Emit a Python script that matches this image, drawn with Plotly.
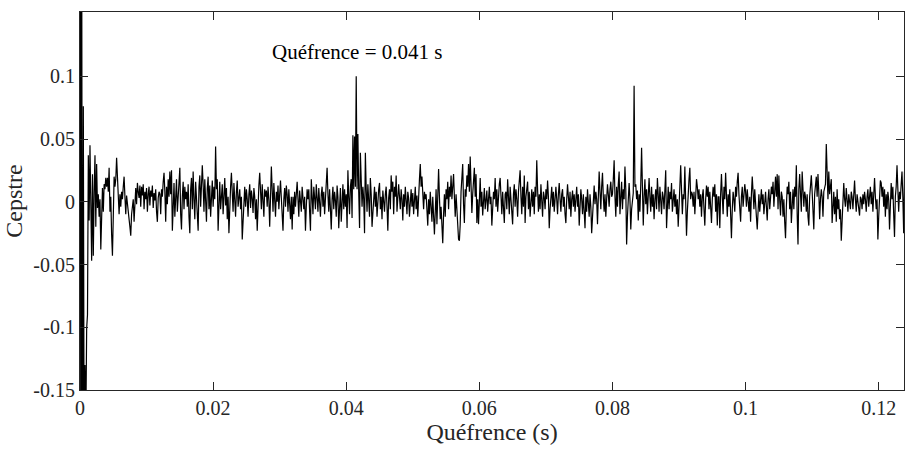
import plotly.graph_objects as go

# Sampling period of the cepstrum (s)
sample_period = 0.000125

# Cepstre values, 32 samples (4 ms) per segment
seg_00 = [0.8, -0.35, 0.25, -0.3, 0.076, -0.22, -0.13, -0.18,
          -0.101, -0.09, 0.037, -0.015, 0.045, -0.012, -0.047, 0.022,
          -0.043, 0.008, 0.037, -0.02, 0.03, -0.005, 0.006, -0.012,
          0.002, -0.038, -0.02, 0.011, -0.008, 0.014, 0.01, 0.019]
seg_01 = [0.012, 0.019, 0.008, 0.027, -0.008, 0.004, -0.026, -0.043,
          -0.012, 0.02, 0.012, 0.018, 0.035, 0.015, 0.001, -0.01,
          0.006, -0.004, 0.008, 0.002, 0.012, 0.02, 0.004, -0.01,
          0.005, 0.0, -0.008, -0.014, -0.02, -0.027, -0.01, -0.004]
seg_02 = [0.002, -0.016, 0.004, 0.011, -0.002, 0.015, 0.008, 0.003,
          0.013, -0.004, 0.012, 0.005, 0.014, -0.006, 0.008, 0.002,
          0.011, -0.008, 0.006, 0.012, -0.003, 0.009, 0.004, 0.013,
          -0.005, 0.007, 0.001, 0.01, -0.008, -0.016, 0.003, 0.008]
seg_03 = [0.006, -0.01, 0.01, 0.004, 0.016, 0.023, 0.008, -0.016,
          0.012, -0.002, 0.018, 0.004, 0.024, 0.006, 0.025, -0.023,
          -0.005, 0.015, -0.012, 0.01, 0.018, -0.008, 0.006, 0.014,
          0.027, -0.01, -0.022, 0.004, 0.016, -0.006, 0.012, 0.002]
seg_04 = [0.008, -0.004, 0.014, -0.012, -0.025, 0.01, 0.019, -0.006,
          0.024, 0.002, -0.014, 0.016, 0.004, -0.01, -0.023, 0.012,
          0.021, -0.004, 0.008, 0.029, 0.014, -0.008, 0.018, 0.0,
          -0.016, 0.011, 0.02, -0.006, 0.013, -0.012, 0.006, 0.017]
seg_05 = [-0.004, 0.012, 0.002, 0.044, 0.01, 0.018, -0.023, 0.004,
          0.016, -0.006, 0.009, 0.014, -0.01, 0.006, 0.019, -0.003,
          0.011, -0.014, 0.004, -0.025, 0.002, 0.012, 0.023, 0.006,
          -0.008, 0.015, 0.003, -0.012, 0.008, 0.017, -0.004, 0.007]
seg_06 = [0.01, -0.006, 0.004, -0.03, -0.01, 0.008, 0.012, -0.004,
          0.01, 0.002, -0.012, 0.006, 0.014, -0.005, 0.009, 0.003,
          -0.009, 0.011, 0.004, -0.014, 0.002, -0.023, 0.006, 0.013,
          0.023, 0.008, -0.006, 0.014, 0.002, -0.012, 0.01, 0.004]
seg_07 = [0.009, -0.004, 0.012, 0.002, -0.02, 0.006, 0.028, 0.01,
          -0.008, 0.015, 0.004, -0.012, 0.008, 0.0, 0.013, -0.006,
          0.006, 0.017, 0.003, -0.01, -0.023, 0.002, 0.011, -0.004,
          0.013, 0.006, -0.008, 0.01, 0.001, -0.014, 0.004, -0.022]
seg_08 = [0.004, -0.01, 0.008, -0.004, 0.006, 0.016, 0.002, -0.012,
          0.009, 0.003, -0.008, 0.012, 0.005, -0.006, 0.004, -0.023,
          -0.004, 0.01, 0.002, 0.01, -0.008, -0.023, 0.018, 0.006,
          -0.01, 0.012, 0.003, -0.006, 0.014, 0.004, -0.008, 0.011]
seg_09 = [0.002, -0.012, 0.006, 0.012, -0.004, 0.008, -0.01, 0.004,
          0.014, 0.027, 0.006, -0.008, 0.01, -0.004, -0.022, 0.002,
          0.012, -0.006, 0.008, 0.001, -0.012, 0.013, 0.004, -0.021,
          0.006, 0.011, -0.016, 0.002, 0.014, -0.006, 0.01, -0.004]
seg_10 = [0.006, -0.021, 0.025, 0.004, -0.01, 0.012, 0.018, -0.013,
          0.053, 0.01, 0.052, 0.012, 0.1, 0.01, 0.054, 0.008,
          -0.021, 0.039, 0.006, -0.004, 0.012, 0.002, -0.025, 0.039,
          0.01, -0.008, 0.014, 0.004, -0.012, 0.019, 0.006, -0.02]
seg_11 = [-0.008, 0.006, 0.012, -0.004, 0.008, -0.012, 0.002, 0.01,
          0.015, -0.006, 0.004, -0.014, 0.009, 0.002, -0.008, 0.006,
          0.012, -0.004, -0.023, 0.003, 0.01, -0.006, 0.021, 0.008,
          0.016, -0.01, 0.012, 0.004, 0.021, -0.008, 0.006, 0.014]
seg_12 = [0.004, -0.006, 0.01, 0.002, -0.015, 0.006, -0.004, 0.012,
          0.001, -0.01, 0.008, 0.003, -0.012, 0.006, 0.01, -0.004,
          0.007, -0.01, 0.002, 0.012, -0.006, 0.005, -0.012, 0.01,
          0.018, 0.03, 0.012, 0.02, 0.004, -0.006, 0.008, 0.002]
seg_13 = [0.006, -0.004, -0.019, 0.002, -0.01, 0.008, -0.006, -0.016,
          0.004, -0.012, -0.026, -0.008, 0.01, -0.018, 0.002, 0.026,
          0.004, -0.014, -0.004, -0.028, -0.033, -0.01, 0.006, -0.012,
          0.01, 0.002, 0.016, -0.006, 0.012, 0.004, 0.021, 0.002]
seg_14 = [0.012, 0.022, 0.004, -0.012, 0.006, -0.008, -0.022, -0.03,
          -0.031, -0.018, 0.008, 0.018, 0.03, -0.002, -0.017, 0.01,
          0.004, 0.021, 0.012, 0.03, 0.008, 0.036, 0.014, -0.009,
          0.006, 0.02, 0.027, 0.004, 0.022, -0.017, 0.002, -0.018]
seg_15 = [0.006, 0.019, -0.004, 0.008, -0.011, 0.004, 0.011, -0.006,
          0.002, 0.009, -0.008, 0.006, 0.012, -0.002, 0.004, -0.019,
          0.0, 0.008, 0.002, 0.019, -0.004, 0.01, -0.008, 0.006,
          0.014, 0.019, 0.004, -0.01, 0.008, -0.004, -0.017, 0.006]
seg_16 = [0.008, -0.006, 0.018, 0.004, -0.01, 0.012, 0.002, -0.008,
          -0.018, 0.006, 0.014, -0.004, 0.01, 0.002, -0.012, 0.008,
          0.022, 0.025, 0.004, -0.01, 0.012, -0.004, 0.021, -0.017,
          0.004, 0.01, 0.016, -0.006, 0.008, -0.012, 0.002, 0.01]
seg_17 = [-0.004, 0.008, -0.01, 0.012, 0.004, 0.033, 0.01, -0.008,
          0.006, -0.006, 0.014, 0.002, -0.012, 0.008, 0.004, -0.006,
          0.01, 0.002, 0.017, 0.004, -0.021, -0.006, 0.006, 0.012,
          -0.004, 0.008, -0.008, 0.004, 0.012, 0.002, -0.01, 0.006]
seg_18 = [0.015, 0.002, -0.008, 0.006, 0.01, -0.004, 0.004, -0.01,
          -0.017, 0.002, 0.014, 0.004, -0.006, 0.008, -0.012, 0.002,
          0.009, -0.004, 0.006, -0.008, 0.004, 0.012, -0.004, 0.006,
          -0.019, -0.006, 0.01, 0.002, -0.01, 0.006, -0.012, -0.021]
seg_19 = [0.004, -0.008, 0.01, 0.002, -0.012, 0.006, -0.004, -0.025,
          -0.008, 0.006, 0.013, -0.002, 0.008, 0.002, -0.018, 0.004,
          0.024, 0.008, -0.006, 0.012, 0.023, 0.004, -0.008, 0.006,
          -0.012, 0.002, 0.014, 0.006, -0.004, 0.01, 0.016, 0.004]
seg_20 = [0.006, 0.018, 0.033, 0.004, -0.012, 0.012, -0.004, 0.014,
          0.024, -0.01, 0.008, 0.016, -0.006, 0.01, 0.002, 0.028,
          0.01, -0.034, -0.012, 0.008, 0.015, 0.002, -0.022, -0.006,
          0.004, 0.007, 0.0925, 0.012, 0.014, 0.002, 0.009, -0.015]
seg_21 = [0.006, -0.008, 0.014, 0.043, 0.012, -0.019, 0.004, 0.018,
          -0.002, 0.01, -0.01, 0.006, 0.019, 0.004, -0.008, 0.012,
          -0.004, 0.006, -0.014, 0.002, 0.01, -0.006, 0.019, 0.006,
          -0.008, 0.012, 0.002, -0.01, 0.008, 0.004, -0.006, 0.01]
seg_22 = [0.025, -0.021, 0.004, 0.012, -0.006, 0.008, 0.002, 0.015,
          -0.008, 0.004, 0.01, -0.004, 0.006, -0.01, 0.002, -0.02,
          0.004, 0.012, 0.029, 0.004, -0.01, 0.006, 0.002, 0.028,
          0.008, -0.027, -0.008, 0.01, 0.018, 0.027, 0.002, 0.008]
seg_23 = [0.006, -0.004, 0.008, -0.01, 0.004, 0.018, 0.012, 0.002,
          0.01, -0.004, 0.006, -0.012, 0.004, 0.01, -0.006, -0.019,
          0.002, 0.013, 0.004, 0.012, -0.006, 0.008, -0.004, -0.017,
          0.002, 0.012, 0.004, 0.014, -0.008, 0.006, -0.019, 0.004]
seg_24 = [0.004, -0.021, 0.006, 0.022, 0.004, -0.01, 0.012, 0.002,
          0.023, 0.004, -0.012, 0.006, -0.004, 0.01, -0.014, -0.029,
          -0.006, 0.008, 0.002, -0.008, 0.012, 0.004, 0.016, 0.023,
          0.006, -0.01, -0.016, 0.004, 0.012, -0.004, 0.008, 0.014]
seg_25 = [0.008, -0.004, 0.01, 0.002, -0.008, 0.004, -0.016, 0.006,
          0.02, 0.008, -0.006, 0.01, 0.002, -0.012, -0.022, -0.004,
          0.006, -0.008, 0.004, 0.01, -0.002, 0.006, -0.01, 0.004,
          0.008, -0.004, -0.015, 0.002, 0.01, -0.006, 0.004, 0.012]
seg_26 = [0.006, 0.016, -0.004, 0.008, 0.02, 0.004, 0.022, -0.006,
          0.021, 0.002, -0.011, 0.008, 0.004, -0.012, 0.002, -0.016,
          -0.029, -0.004, 0.012, 0.006, 0.016, -0.006, 0.008, -0.017,
          0.002, 0.01, -0.006, 0.012, 0.004, 0.029, -0.01, -0.034]
seg_27 = [0.01, 0.022, 0.006, -0.008, 0.024, 0.012, -0.004, 0.008,
          0.004, -0.008, 0.006, -0.012, -0.019, 0.004, 0.014, 0.021,
          0.008, -0.006, -0.022, 0.006, 0.014, 0.02, 0.004, 0.022,
          0.008, -0.014, 0.002, 0.01, 0.004, -0.012, 0.008, 0.012]
seg_28 = [0.014, 0.046, 0.01, 0.002, 0.024, 0.006, 0.012, 0.018,
          -0.017, 0.002, 0.008, -0.01, 0.004, -0.016, 0.01, -0.006,
          0.002, -0.014, -0.006, -0.031, -0.01, 0.006, 0.015, 0.002,
          -0.004, 0.011, 0.004, -0.008, 0.006, 0.001, -0.006, 0.008]
seg_29 = [0.004, -0.006, 0.008, 0.017, 0.002, -0.008, 0.006, 0.0,
          -0.004, -0.011, 0.004, 0.002, -0.006, 0.006, -0.002, 0.008,
          0.002, -0.008, 0.004, 0.01, -0.004, 0.006, 0.012, -0.002,
          0.008, -0.008, 0.012, 0.019, 0.004, -0.006, 0.002, -0.03]
seg_30 = [-0.012, 0.006, 0.017, 0.015, 0.004, 0.012, -0.004, 0.01,
          -0.012, 0.006, -0.006, 0.008, 0.002, -0.022, 0.004, 0.015,
          0.002, 0.012, -0.01, -0.028, 0.004, 0.012, 0.029, 0.006,
          -0.008, 0.008, 0.002, 0.014, 0.024, 0.004, -0.025, 0.024]

cepstre = (seg_00 + seg_01 + seg_02 + seg_03 + seg_04 + seg_05 + seg_06 + seg_07
           + seg_08 + seg_09 + seg_10 + seg_11 + seg_12 + seg_13 + seg_14 + seg_15
           + seg_16 + seg_17 + seg_18 + seg_19 + seg_20 + seg_21 + seg_22 + seg_23
           + seg_24 + seg_25 + seg_26 + seg_27 + seg_28 + seg_29 + seg_30)

x_tick_vals = [0, 0.02, 0.04, 0.06, 0.08, 0.1, 0.12]
x_tick_text = ["0", "0.02", "0.04", "0.06", "0.08", "0.1", "0.12"]
y_tick_vals = [-0.15, -0.1, -0.05, 0, 0.05, 0.1]
y_tick_text = ["-0.15", "-0.1", "-0.05", "0", "0.05", "0.1"]

x_title = "Quéfrence (s)"
y_title = "Cepstre"
annotation_text = "Quéfrence = 0.041 s"

ink = "#262626"
font_family = "Liberation Serif"

fig = go.Figure(
    go.Scatter(
        y=cepstre, x0=0, dx=sample_period, mode="lines",
        line=dict(color="black", width=1.2), hoverinfo="skip",
    )
)

axis_common = dict(
    ticks="inside", ticklen=8, tickwidth=1, tickcolor=ink,
    showline=True, linecolor=ink, linewidth=1, mirror="ticks",
    showgrid=False, zeroline=False, tickmode="array",
    tickfont=dict(size=20, color=ink, family=font_family),
)

fig.update_layout(
    width=905, height=450,
    margin=dict(l=80, r=1, t=12, b=60),
    paper_bgcolor="white", plot_bgcolor="white",
    font=dict(family=font_family, color=ink, size=20),
    showlegend=False,
    xaxis=dict(
        range=[0, 0.1238], tickvals=x_tick_vals, ticktext=x_tick_text,
        title=dict(text=x_title, font=dict(size=24, color=ink, family=font_family), standoff=3),
        **axis_common,
    ),
    yaxis=dict(
        range=[-0.15, 0.1512], tickvals=y_tick_vals, ticktext=y_tick_text,
        title=dict(text=y_title, font=dict(size=24, color=ink, family=font_family), standoff=3),
        **axis_common,
    ),
    annotations=[dict(
        x=0.0285, y=0.119, xref="x", yref="y", text=annotation_text,
        showarrow=False, xanchor="left", yanchor="middle",
        font=dict(size=21, color="black", family=font_family),
    )],
)

fig.write_html("out.html")
